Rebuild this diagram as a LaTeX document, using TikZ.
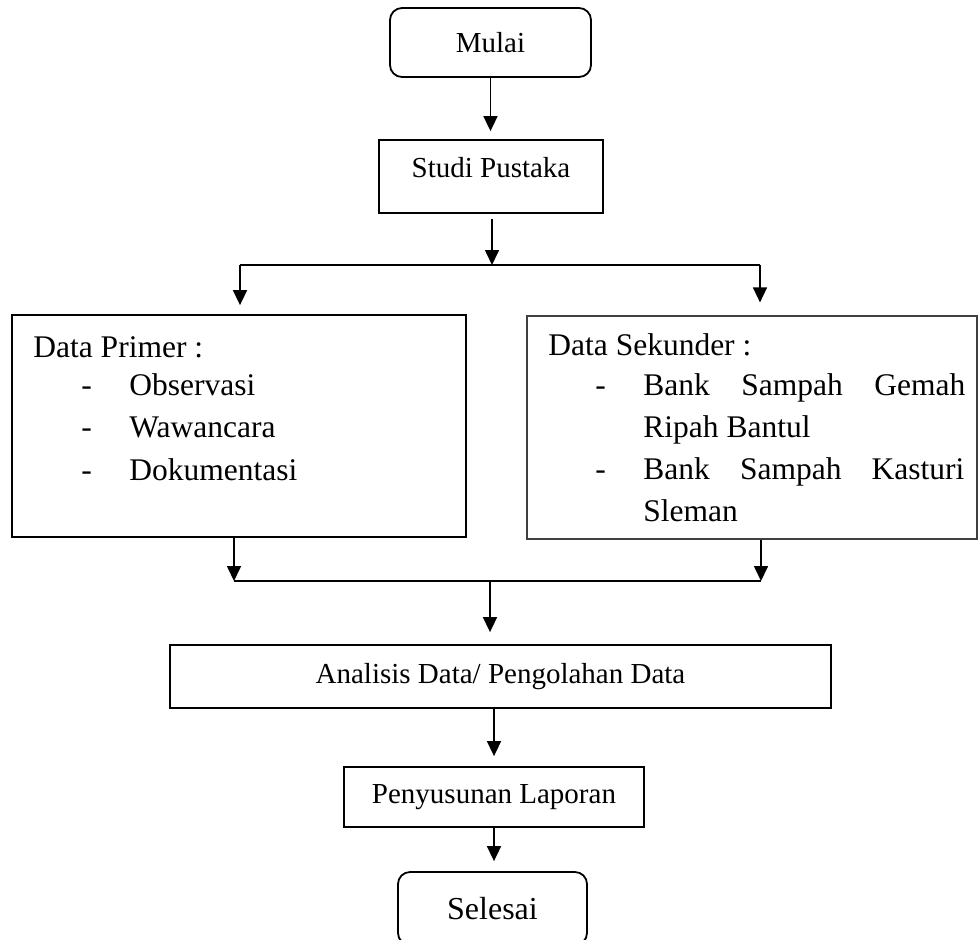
\documentclass[tikz,border=0pt]{standalone}
\usepackage{fontspec}
\setmainfont{Liberation Serif}
\usetikzlibrary{arrows.meta}
\begin{document}
\begin{tikzpicture}[x=0.5pt,y=-0.5pt,
  every node/.style={font=\fontsize{14.5}{17}\selectfont},
  box/.style={draw=black, line width=0.9pt, inner sep=0pt},
  rbox/.style={box, rounded corners=6pt},
  lst/.style={font=\fontsize{15.75}{19}\selectfont, inner sep=0pt, anchor=base west},
  conn/.style={line width=0.8pt},
  arr/.style={conn, -{Triangle[length=7.5pt,width=7pt]}}]
\useasboundingbox (0,0) rectangle (978,939);
\clip (0,0) rectangle (978,939);
% boxes
\node[rbox, minimum width=100.5pt, minimum height=34.5pt] (mulai) at (490.5,42.5) {Mulai};
\node[box, minimum width=112pt, minimum height=36.5pt] (studi) at (491,176.5) {};
\node[inner sep=0pt] (studitxt) at (491,168) {Studi Pustaka};
\node[box, minimum width=227pt, minimum height=111pt] (prim) at (239,426) {};
\node[box, draw=black!75, line width=0.6pt, minimum width=225pt, minimum height=111.5pt] (sek) at (752,427.5) {};
\node[box, minimum width=330.5pt, minimum height=31.5pt] (anal) at (500.5,676.5) {Analisis Data/ Pengolahan Data};
\node[box, minimum width=150pt, minimum height=30pt] (peny) at (494,797) {Penyusunan Laporan};
\node[rbox, minimum width=94.5pt, minimum height=36.5pt, font=\fontsize{16}{19}\selectfont] (sel) at (492.5,908.5) {Selesai};
% list texts
\node[lst] (p0) at (33,357) {Data Primer :};
\node[lst] (pd1) at (81,395) {-};
\node[lst] (p1) at (129,395) {Observasi};
\node[lst] (pd2) at (81,437) {-};
\node[lst] (p2) at (129,437) {Wawancara};
\node[lst] (pd3) at (81,480) {-};
\node[lst] (p3) at (129,480) {Dokumentasi};
\node[lst] (s0) at (548,355) {Data Sekunder :};
\node[lst] (sd1) at (595,395) {-};
\node[lst] (s1) at (643,395) {\makebox[161pt][s]{Bank Sampah Gemah}};
\node[lst] (s2) at (643,437) {Ripah Bantul};
\node[lst] (sd2) at (595,479) {-};
\node[lst] (s3) at (643,479) {\makebox[160.5pt][s]{Bank Sampah Kasturi}};
\node[lst] (s4) at (643,521) {Sleman};
% connectors
\coordinate (split) at (492,265);
\coordinate (splitL) at (240,265);
\coordinate (splitR) at (760,265);
\coordinate (joinL) at (234,581);
\coordinate (joinR) at (761,581);
\coordinate (join) at (490,581);
\draw[arr, shorten >=4pt] (mulai.south) -- (mulai.south |- studi.north);
\draw[arr, shorten <=2.5pt] (studi.south -| split) -- (split);
\draw[conn] (splitL) -- (splitR);
\draw[arr, shorten >=4.5pt] (splitL) -- (splitL |- prim.north);
\draw[arr, shorten >=6.5pt] (splitR) -- (splitR |- sek.north);
\draw[arr] (prim.south -| joinL) -- (joinL);
\draw[arr] (sek.south -| joinR) -- (joinR);
\draw[conn] (joinL) -- (joinR);
\draw[arr, shorten >=6pt] (join) -- (join |- anal.north);
\draw[arr, shorten >=5pt] (anal.south -| peny.north) -- (peny.north);
\draw[arr, shorten >=5pt] (peny.south) -- (peny.south |- sel.north);
\end{tikzpicture}
\end{document}
